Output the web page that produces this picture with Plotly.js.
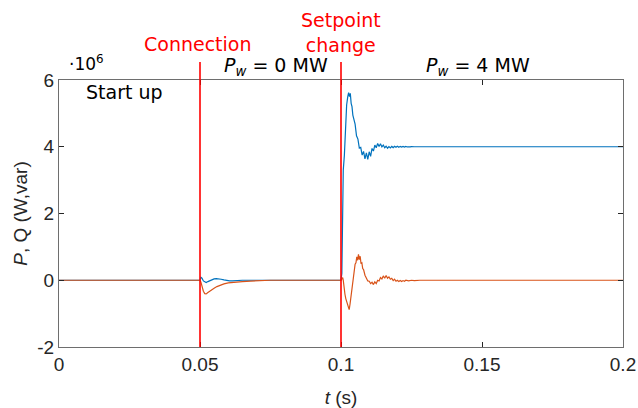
<!DOCTYPE html>
<html>
<head>
<meta charset="utf-8">
<script src="https://cdn.plot.ly/plotly-3.0.1.min.js"></script>
<style>html,body{margin:0;padding:0;background:#fff;}#chart{width:638px;height:408px;}</style>
</head>
<body>
<div id="chart"></div>
<script>
// Values in units of 10^6 (W, var)
var tP = [0, 0.0500, 0.0503, 0.0507, 0.0512, 0.0517, 0.0522, 0.0528, 0.0535, 0.0542, 0.0550, 0.0558, 0.0566, 0.0575, 0.0585, 0.0595, 0.0605, 0.0615, 0.0630, 0.0650, 0.0700,
  0.1000, 0.1003, 0.1005, 0.1006, 0.1008, 0.1012, 0.1015, 0.1017, 0.1020, 0.1024, 0.1027, 0.1030, 0.1033, 0.1036, 0.1039, 0.1042, 0.1046,
  0.1050, 0.1055, 0.1060, 0.1065, 0.1070, 0.1075, 0.1080, 0.1085, 0.1090, 0.1095, 0.1100, 0.1105, 0.1110, 0.1115, 0.1120, 0.1125, 0.1130, 0.1135, 0.1140, 0.1145,
  0.1150, 0.1155, 0.1160, 0.1165, 0.1170, 0.1175, 0.1180, 0.1185, 0.1190, 0.1195, 0.1200, 0.1205, 0.1210, 0.1215, 0.1220, 0.1225, 0.1230, 0.1235, 0.1240, 0.1245, 0.1250, 0.1260, 0.2000];
var P = [0, 0, 0.09, 0.06, -0.02, -0.06, -0.07, -0.04, -0.01, 0.02, 0.04, 0.05, 0.05, 0.03, 0.01, -0.01, -0.02, -0.02, -0.01, 0.0, 0.0,
  0.0, 0.2, 1.3, 2.5, 3.3, 3.75, 4.4, 5.0, 5.25, 5.5, 5.62, 5.5, 5.6, 5.3, 5.2, 4.95, 4.8,
  4.68, 4.33, 4.23, 3.96, 3.98, 3.75, 3.86, 3.64, 3.815, 3.62, 3.85, 3.71, 3.95, 3.87, 4.05, 3.97, 4.10, 4.005, 4.09, 3.995,
  4.05, 3.97, 4.015, 3.955, 4.007, 3.966, 4.01, 3.975, 4.016, 3.985, 4.015, 3.987, 4.012, 3.99, 4.01, 3.992, 4.008, 3.994, 4.006, 3.995, 4.005, 4.0, 4.0];

var tQ = [0, 0.0500, 0.0503, 0.0507, 0.0512, 0.0517, 0.0522, 0.0528, 0.0535, 0.0542, 0.0550, 0.0560, 0.0570, 0.0585, 0.0600, 0.0620, 0.0650, 0.0680, 0.0710, 0.0750,
  0.1000, 0.1004, 0.1006, 0.1008, 0.1011, 0.1014, 0.1017, 0.1020, 0.1023, 0.1026, 0.1029, 0.1032, 0.1035, 0.1038, 0.1041, 0.1044, 0.1047,
  0.1050, 0.1053, 0.1056, 0.1059, 0.1062, 0.1065, 0.1068, 0.1071, 0.1074, 0.1077, 0.1080, 0.1085, 0.1090, 0.1095, 0.1100, 0.1105, 0.1110, 0.1115,
  0.1120, 0.1125, 0.1130, 0.1135, 0.1140, 0.1145, 0.1150, 0.1155, 0.1160, 0.1165, 0.1170, 0.1175, 0.1180, 0.1185, 0.1190, 0.1195,
  0.1200, 0.1205, 0.1210, 0.1215, 0.1220, 0.1225, 0.1230, 0.1240, 0.1250, 0.1260, 0.1280, 0.2000];
var Q = [0, 0, -0.05, -0.2, -0.33, -0.4, -0.41, -0.37, -0.32, -0.28, -0.24, -0.19, -0.15, -0.11, -0.08, -0.06, -0.04, -0.025, -0.01, 0.0,
  0.0, 0.05, 0.08, 0.0, -0.3, -0.42, -0.55, -0.62, -0.72, -0.8, -0.88, -0.72, -0.5, -0.32, -0.05, 0.15, 0.3,
  0.48, 0.52, 0.7, 0.6, 0.78, 0.62, 0.72, 0.5, 0.52, 0.35, 0.32, 0.15, 0.08, -0.02, -0.03, -0.1, -0.06, -0.13,
  -0.05, -0.1, 0.0, -0.02, 0.08, 0.04, 0.13, 0.06, 0.14, 0.06, 0.1, 0.03, 0.06, -0.01, 0.03, -0.03,
  0.0, -0.04, -0.01, -0.04, -0.01, -0.03, 0.0, -0.02, 0.0, -0.01, 0.0, 0.0];

var xTicks = [0, 0.05, 0.1, 0.15, 0.2];
var xTickText = ['0', '0.05', '0.1', '0.15', '0.2'];
var yTicks = [-2, 0, 2, 4, 6];
var yTickText = ['-2', '0', '2', '4', '6'];
var eventTimes = [0.05, 0.1];

var tickFont = {family: 'Liberation Sans, Arial, sans-serif', size: 19, color: '#262626'};
var annFont = {family: 'DejaVu Sans, sans-serif', size: 19, color: '#000000'};
var redFont = {family: 'DejaVu Sans, sans-serif', size: 19, color: '#FF0000'};

var traces = [
  {x: tP, y: P, mode: 'lines', line: {color: '#0072BD', width: 1.2}, hoverinfo: 'none'},
  {x: tQ, y: Q, mode: 'lines', line: {color: '#D95319', width: 1.2}, hoverinfo: 'none'}
];

var shapes = eventTimes.map(function (t) {
  return {type: 'line', xref: 'x', yref: 'paper', x0: t, x1: t, y0: 0, y1: 1.067,
          line: {color: '#FF0000', width: 1.6}, layer: 'above'};
});

var layout = {
  width: 638, height: 408,
  margin: {l: 59, r: 15, t: 80, b: 61},
  paper_bgcolor: '#ffffff', plot_bgcolor: '#ffffff',
  showlegend: false,
  xaxis: {
    range: [0, 0.2], tickvals: xTicks, ticktext: xTickText,
    ticks: 'inside', ticklen: 5, tickcolor: '#262626', tickwidth: 1,
    showline: true, linecolor: '#6e6e6e', linewidth: 1, mirror: 'ticks',
    showgrid: false, zeroline: false, tickfont: tickFont,
    title: {text: '<i>t</i> (s)', font: tickFont, standoff: 16}
  },
  yaxis: {
    range: [-2, 6], tickvals: yTicks, ticktext: yTickText,
    ticks: 'inside', ticklen: 5, tickcolor: '#262626', tickwidth: 1,
    showline: true, linecolor: '#6e6e6e', linewidth: 1, mirror: 'ticks',
    showgrid: false, zeroline: false, tickfont: tickFont,
    title: {text: '<i>P</i>, Q (W,var)', font: tickFont, standoff: 4}
  },
  shapes: shapes,
  annotations: [
    {text: 'Connection', xref: 'x', yref: 'paper', x: 0.0494, y: 1.136, xanchor: 'center', yanchor: 'middle', showarrow: false, font: redFont},
    {text: 'Setpoint<br>change', xref: 'x', yref: 'paper', x: 0.1, y: 1.178, xanchor: 'center', yanchor: 'middle', showarrow: false, font: redFont},
    {text: '<i>P</i><sub><i>w</i></sub> = 0 MW', xref: 'x', yref: 'paper', x: 0.077, y: 1.05, xanchor: 'center', yanchor: 'middle', showarrow: false, font: annFont},
    {text: '<i>P</i><sub><i>w</i></sub> = 4 MW', xref: 'x', yref: 'paper', x: 0.1486, y: 1.05, xanchor: 'center', yanchor: 'middle', showarrow: false, font: annFont},
    {text: 'Start up', xref: 'x', yref: 'paper', x: 0.0232, y: 0.955, xanchor: 'center', yanchor: 'middle', showarrow: false, font: annFont},
    {text: '·10<sup>6</sup>', xref: 'x', yref: 'paper', x: 0.0099, y: 1.065, xanchor: 'center', yanchor: 'middle', showarrow: false, font: {family: 'DejaVu Sans, sans-serif', size: 17, color: '#000000'}}
  ]
};

Plotly.newPlot('chart', traces, layout, {staticPlot: true, displayModeBar: false});
</script>
</body>
</html>
